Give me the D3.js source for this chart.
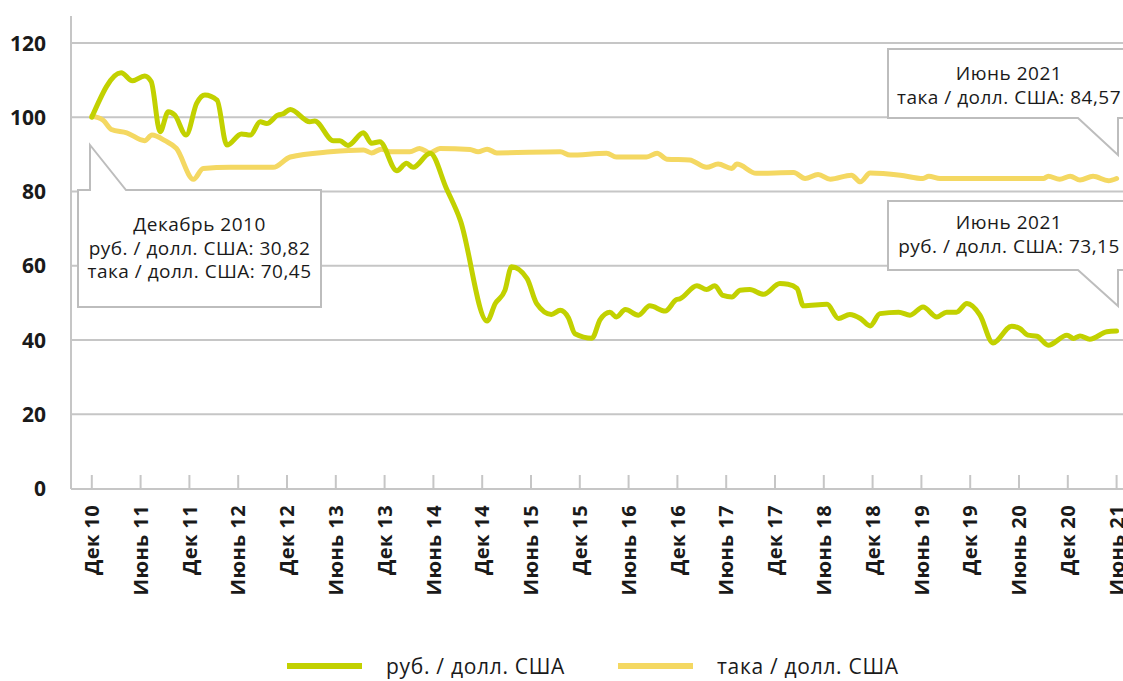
<!DOCTYPE html>
<html lang="ru">
<head>
<meta charset="UTF-8">
<title>Рубль и така к доллару США</title>
<script src="https://cdn.jsdelivr.net/npm/d3@7"></script>
<style>
    body { margin: 0; background: #fff; }
    svg text { font-family: "Open Sans", "DejaVu Sans", sans-serif; fill: #1a1a1a; }
    .grid line { stroke: #c6c6c6; stroke-width: 2; }
    .line { fill: none; stroke-width: 5; stroke-linejoin: round; stroke-linecap: round; }
    .callout { fill: #fff; stroke: #bdbdbd; stroke-width: 2; }
</style>
</head>
<body>
<div id="chart"></div>
<script>
// months counted from December 2010 (0) to June 2021 (126)
const xTickMonths = d3.range(0, 127, 6);
const xTickLabels = ["Дек 10", "Июнь 11", "Дек 11", "Июнь 12", "Дек 12", "Июнь 13",
    "Дек 13", "Июнь 14", "Дек 14", "Июнь 15", "Дек 15", "Июнь 16", "Дек 16",
    "Июнь 17", "Дек 17", "Июнь 18", "Дек 18", "Июнь 19", "Дек 19", "Июнь 20",
    "Дек 20", "Июнь 21"];
const yTicks = [0, 20, 40, 60, 80, 100, 120];

// index, Dec 2010 = 100
const rubMonths = [0, 3.6, 5, 6.5, 7.3, 8.4, 9.4, 10.2, 11.6, 12.9, 13.9, 15.4, 16.6,
    18.4, 19.5, 20.7, 21.5, 22.9, 23.5, 24.4, 26.8, 27.4, 29.7, 30.5, 31.5, 33.4, 34.4,
    35.4, 37.5, 38.7, 39.5, 41.6, 43.6, 45.3, 48.6, 49.6, 50.8, 51.6, 53.5, 54.7, 56.5,
    57.6, 58.6, 59.4, 61.5, 62.5, 63.7, 64.5, 65.6, 67.2, 68.6, 70.5, 71.9, 72.3, 74.4,
    75.6, 76.6, 77.6, 78.7, 79.7, 80.9, 82.6, 84.6, 85.6, 86.7, 87.5, 90.4, 91.8, 93.2,
    94.5, 95.7, 96.9, 99.2, 100.6, 102.2, 103.9, 105.1, 106.3, 107.6, 109.2, 110.8,
    113.1, 114.1, 115.1, 116.2, 117.6, 119.9, 120.7, 121.5, 122.7, 124.8, 126];
const rubValues = [100, 112, 109.8, 111.1, 109.6, 96.1, 101.5, 100.6, 95.2, 103.8, 106, 104.6, 92.5,
    95.5, 95.2, 98.8, 98.3, 100.6, 100.9, 102.1, 98.8, 99, 93.7, 93.7, 92.4, 95.8, 93,
    93.4, 85.6, 87.6, 86.5, 90.3, 80.8, 72.3, 45.1, 49.8, 53.4, 59.7, 56.6, 49.8, 46.9,
    48, 46, 41.7, 40.5, 45.5, 47.5, 46.2, 48.2, 46.7, 49.2, 47.8, 50.9, 51.1, 54.6,
    53.6, 54.6, 52, 51.6, 53.4, 53.6, 52.3, 55.2, 55, 53.9, 49.2, 49.6, 45.8, 46.9,
    45.8, 43.8, 47.1, 47.5, 46.7, 48.9, 46.2, 47.5, 47.5, 49.8, 46.7, 39.2,
    43.7, 43.1, 41.3, 41, 38.6, 41.3, 40.4, 41.1, 40.2, 42.2, 42.4];

const takaMonths = [0, 1.4, 2.4, 4.3, 6.5, 7.4, 9, 10.4, 12.5, 13.7, 17, 22.3, 24.4, 29.3,
    33.4, 34.4, 35.6, 36.7, 39.1, 40.3, 41.6, 42.8, 46.5, 47.5, 48.6, 49.8, 57.6, 58.8,
    63.3, 64.5, 68.2, 69.5, 70.7, 73.5, 75.6, 77, 78.7, 79.3, 81.7, 86.3, 87.7, 89.3,
    90.8, 93.4, 94.5, 95.7, 99.4, 102.2, 102.9, 104.3, 117, 117.6, 119, 120.3, 121.5,
    123.1, 125, 126];
const takaValues = [100.3, 99.2, 96.7, 95.8, 93.7, 95.2, 93.7, 91.6, 83.3, 86.2, 86.5, 86.5, 89.3, 90.7,
    91.2, 90.4, 91.4, 90.7, 90.7, 91.6, 90.4, 91.6, 91.3, 90.7, 91.4, 90.4, 90.7, 89.8,
    90.3, 89.3, 89.3, 90.3, 88.7, 88.5, 86.5, 87.4, 86.2, 87.4, 84.9, 85.1, 83.5, 84.6,
    83.3, 84.4, 82.6, 85, 84.4, 83.5, 84.1, 83.5, 83.5, 84.1, 83.3, 84.1, 83.1,
    84.1, 82.9, 83.5];

const seriesNames = ["руб. / долл. США", "така / долл. США"];
const seriesColors = ["#c2d100", "#f4d862"];

const calloutStart = ["Декабрь 2010", "руб. / долл. США: 30,82", "така / долл. США: 70,45"];
const calloutTaka = ["Июнь 2021", "така / долл. США: 84,57"];
const calloutRub = ["Июнь 2021", "руб. / долл. США: 73,15"];

const W = 1123, H = 681;
const plotLeft = 71, plotRight = 1123, plotTop = 16, plotBottom = 489;

const svg = d3.select("#chart").append("svg")
    .attr("width", W).attr("height", H);

const x = d3.scaleLinear().domain([0, 126]).range([91.8, 1116.6]);
const y = d3.scaleLinear().domain([0, 120]).range([488.5, 43]);

// gridlines
svg.append("g").attr("class", "grid")
    .selectAll("line").data(yTicks.filter(d => d > 0)).join("line")
    .attr("x1", plotLeft).attr("x2", plotRight)
    .attr("y1", d => y(d)).attr("y2", d => y(d));

// y labels
svg.append("g").selectAll("text").data(yTicks).join("text")
    .attr("x", 46).attr("y", d => y(d))
    .attr("dy", "0.36em")
    .attr("text-anchor", "end")
    .style("font-size", "21px").style("font-weight", 700)
    .text(d => d);

// axes lines
svg.append("line").attr("x1", plotLeft).attr("x2", plotLeft).attr("y1", plotTop).attr("y2", plotBottom)
    .attr("stroke", "#c6c6c6").attr("stroke-width", 2);
svg.append("line").attr("x1", plotLeft).attr("x2", plotRight).attr("y1", plotBottom).attr("y2", plotBottom)
    .attr("stroke", "#c6c6c6").attr("stroke-width", 2);

// x ticks (pointing up)
svg.append("g").selectAll("line").data(xTickMonths).join("line")
    .attr("x1", d => x(d)).attr("x2", d => x(d))
    .attr("y1", plotBottom).attr("y2", plotBottom - 14)
    .attr("stroke", "#c6c6c6").attr("stroke-width", 2);

svg.append("g").selectAll("text").data(xTickMonths).join("text")
    .attr("transform", d => `translate(${x(d)},${plotBottom + 16}) rotate(-90)`)
    .attr("dy", "0.36em")
    .attr("text-anchor", "end")
    .style("font-size", "20px").style("font-weight", 700)
    .style("letter-spacing", "0.4px")
    .text((d, i) => xTickLabels[i]);

// callouts
function callout(pathD, lines, cx, y0, step) {
    const g = svg.append("g");
    g.append("path").attr("class", "callout").attr("d", pathD);
    g.selectAll("text").data(lines).join("text")
        .attr("x", cx).attr("y", (d, i) => y0 + i * step)
        .attr("text-anchor", "middle")
        .style("font-size", "19px")
        .style("letter-spacing", "0.5px")
        .text(d => d);
}
callout("M78,190 H90 V145 L126,190 H321 V307 H78 Z", calloutStart, 199.5, 231, 23.5);
callout("M1130,49 H888 V118 H1078 L1118,155 V118 H1130", calloutTaka, 1009, 80, 23.5);
callout("M1130,201 H888 V270 H1078 L1118,306 V270 H1130", calloutRub, 1009, 229, 23.5);

// lines
const line = d3.line()
    .x(d => x(d[0])).y(d => y(d[1]))
    .curve(d3.curveMonotoneX);

const takaData = d3.zip(takaMonths, takaValues);
const rubData = d3.zip(rubMonths, rubValues);

svg.append("path").datum(takaData).attr("class", "line")
    .attr("stroke", seriesColors[1]).attr("d", line);
svg.append("path").datum(rubData).attr("class", "line")
    .attr("stroke", seriesColors[0]).attr("d", line);

// legend
const legendX = [287, 618];
const legend = svg.append("g").selectAll("g").data(seriesNames).join("g")
    .attr("transform", (d, i) => `translate(${legendX[i]},666)`);
legend.append("line").attr("x1", 0).attr("x2", 75)
    .attr("stroke", (d, i) => seriesColors[i]).attr("stroke-width", 6);
legend.append("text").attr("x", 99).attr("y", 8)
    .style("font-size", "21px")
    .style("letter-spacing", "0.7px")
    .text(d => d);
</script>
</body>
</html>
